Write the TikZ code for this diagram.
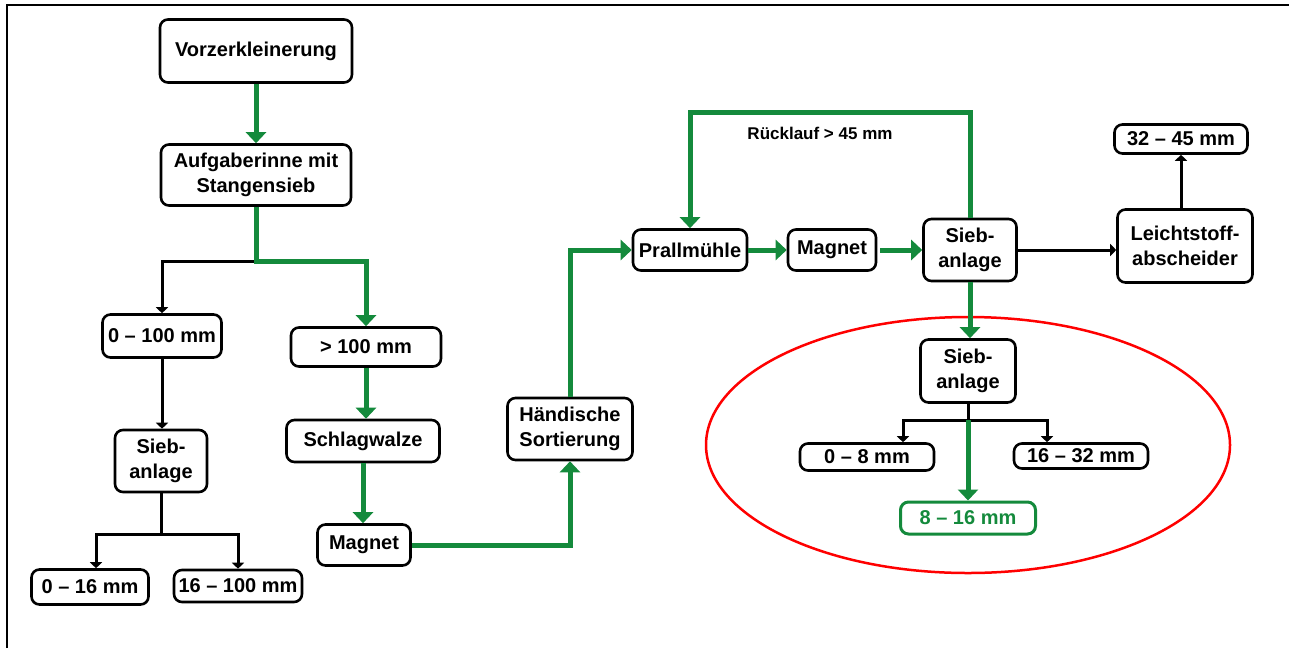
\documentclass[tikz,border=0pt]{standalone}
\usepackage{fontspec}
\setmainfont{Liberation Sans}
\usetikzlibrary{arrows.meta}
\definecolor{flowgreen}{RGB}{20,138,60}

\begin{document}
\begin{tikzpicture}[x=1pt,y=-1pt,
  box/.style={draw,line width=2.6pt,rounded corners=8pt,inner sep=0pt,align=center,
    font=\fontsize{20}{25}\selectfont\bfseries},
  gbox/.style={box,draw=flowgreen,text=flowgreen,line width=3pt},
  gflow/.style={draw=flowgreen,line width=5pt,-{Triangle[length=11pt,width=20pt]}},
  bflow/.style={line width=3pt,-{Triangle[length=6pt,width=12pt]}}]
  \useasboundingbox (0,0) rectangle (1289,648);
  % frame, only top and left edge
  \draw[line width=2pt] (7,648) -- (7,5) -- (1289,5);

  % pre-crushing
  \node[box,minimum width=192,minimum height=63] (vorz) at (256,51) {Vorzerkleinerung};
  \node[box,minimum width=190,minimum height=61] (aufg) at (256,175) {Aufgaberinne mit\\Stangensieb};
  \draw[gflow] (vorz) -- (aufg);

  % split after the bar screen
  \coordinate (split1) at (256,261);
  \node[box,minimum width=119,minimum height=43] (fine) at (162,336) {0 – 100 mm};
  \node[box,minimum width=150,minimum height=39] (coarse) at (366,347) {> 100 mm};
  \draw[bflow] (split1) -| (fine.north);
  \draw[gflow] (aufg.south) -- (split1) -| (coarse.north);

  % left branch
  \node[box,minimum width=92,minimum height=62] (siebA) at (161,461) {Sieb-\\anlage};
  \draw[bflow] (fine.south) -- (fine.south |- siebA.north);
  \coordinate (split2) at (161,534);
  \node[box,minimum width=117,minimum height=35] (a016) at (90,587) {0 – 16 mm};
  \node[box,minimum width=128,minimum height=32] (a16100) at (238,586) {16 – 100 mm};
  \draw[bflow] (siebA.south) -- (split2) -| ([xshift=6pt]a016.north);
  \draw[bflow] (split2) -| (a16100.north);

  % coarse branch
  \node[box,minimum width=153,minimum height=42] (schlag) at (363,441) {Schlagwalze};
  \node[box,minimum width=93,minimum height=41] (magA) at (364,545) {Magnet};
  \draw[gflow] (coarse.south) -- (coarse.south |- schlag.north);
  \draw[gflow] (schlag.south) -- (schlag.south |- magA.north);
  \node[box,minimum width=125,minimum height=62] (hand) at (570,429) {Händische\\Sortierung};
  \draw[gflow] (magA.east) -| (hand.south);

  % impact mill line
  \node[box,minimum width=114,minimum height=41] (prall) at (690,250) {Prallmühle};
  \node[box,minimum width=88,minimum height=41] (magB) at (832,250) {Magnet};
  \node[box,minimum width=93,minimum height=62] (siebB) at (970,250) {Sieb-\\anlage};
  \node[box,minimum width=135,minimum height=73] (leicht) at (1185,246) {Leichtstoff-\\abscheider};
  \node[box,minimum width=133,minimum height=29] (r3245) at (1181,139) {32 – 45 mm};
  \draw[gflow] (hand.north) |- (prall.west);
  \draw[gflow] (prall) -- (magB);
  \draw[gflow,shorten <=3pt] (magB) -- (siebB);
  \draw[bflow] (siebB.east) -- (siebB.east -| leicht.west);
  \draw[bflow] (r3245.south |- leicht.north) -- (r3245.south);

  % return loop
  \draw[gflow] (siebB.north) -- ++(0,-105) -| (prall.north);
  \node[font=\fontsize{17}{20}\selectfont\bfseries] (back) at (820,133) {Rücklauf > 45 mm};

  % final screening
  \draw[red,line width=2.5pt] (968,445) ellipse [x radius=262, y radius=128];
  \node[box,minimum width=95,minimum height=63] (siebC) at (968,371) {Sieb-\\anlage};
  \draw[gflow] (siebB.south) -- (siebB.south |- siebC.north);
  \coordinate (split3) at (968,420);
  \node[box,minimum width=134,minimum height=27] (c08) at (867,457) {0 – 8 mm};
  \node[box,minimum width=134,minimum height=25] (c1632) at (1081,456) {16 – 32 mm};
  \node[gbox,minimum width=135,minimum height=32] (c816) at (968,518) {8 – 16 mm};
  \draw[bflow] (siebC.south) -- (split3) -| ([xshift=36pt]c08.north);
  \draw[bflow] (split3) -| ([xshift=-34pt]c1632.north);
  \draw[gflow] (split3) -- (c816.north);
\end{tikzpicture}
\end{document}
